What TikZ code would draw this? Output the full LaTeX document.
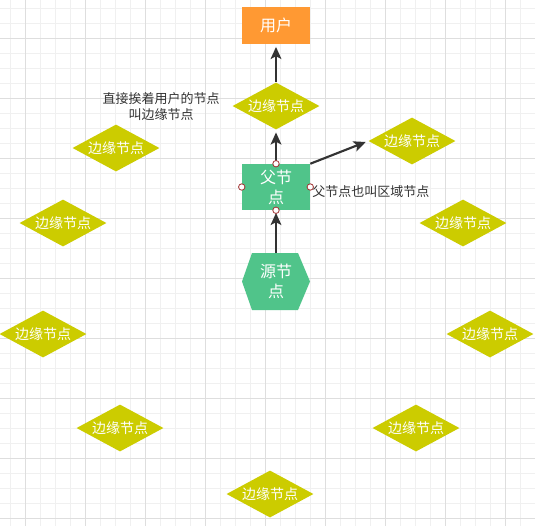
\documentclass[tikz,border=0pt]{standalone}
\usepackage{fontspec}
\setmainfont{Noto Sans CJK SC}
\usepackage{tikz}
\usetikzlibrary{positioning,arrows.meta,shapes.geometric}
\tikzset{>=Stealth}
\definecolor{gridminor}{RGB}{240,240,240}
\definecolor{gridmajor}{RGB}{222,222,222}
\definecolor{userorange}{RGB}{255,153,51}
\definecolor{nodegreen}{RGB}{80,196,138}
\definecolor{edgeyellow}{RGB}{204,204,0}
\definecolor{textgray}{RGB}{51,51,51}
\definecolor{portred}{RGB}{160,50,50}

\tikzset{
  edgenode/.style={diamond, aspect=1.85, fill=edgeyellow, text=white, inner sep=0pt,
    minimum width=65.25pt, minimum height=35.25pt, font=\fontsize{10.5}{12}\selectfont},
  boxnode/.style={rectangle, text=white, inner sep=0pt, minimum width=51pt, align=center,
    font=\fontsize{12}{15}\selectfont},
  flow/.style={->, line width=1.6pt, textgray, shorten >=2pt, >={Stealth[length=9pt,width=8pt,inset=2pt]}},
  port/.style={draw=portred, fill=white, line width=0.6pt},
  note/.style={text=textgray, inner sep=0pt, align=center, font=\fontsize{9.75}{12}\selectfont}
}

\begin{document}
\begin{tikzpicture}[x=0.75pt, y=-0.75pt]
    % Background grid
    \fill[white] (0,0) rectangle (535,526);
    \useasboundingbox (0,0) rectangle (535,526);
    \foreach \x in {10,25,...,535} {
        \draw[gridminor, line width=0.7pt] (\x,0) -- (\x,526);
    }
    \foreach \y in {8,23,...,526} {
        \draw[gridminor, line width=0.7pt] (0,\y) -- (535,\y);
    }
    \foreach \x in {25,85,...,535} {
        \draw[gridmajor, line width=0.7pt] (\x,0) -- (\x,526);
    }
    \foreach \y in {38,98,...,526} {
        \draw[gridmajor, line width=0.7pt] (0,\y) -- (535,\y);
    }

    % User and parent boxes
    \node[boxnode, fill=userorange, minimum height=27.75pt] (user) at (276,25.5) {用户};
    \node[boxnode, fill=nodegreen, minimum height=34.5pt] (parent) at (276,187) {父节\\点};

    % Source hexagon
    \fill[nodegreen] (242,281.5) -- (252,253) -- (298,253) -- (310,281.5) -- (298,310) -- (252,310) -- cycle;
    \node[boxnode, minimum height=42.75pt] (src) at (276,281.5) {源节\\点};

    % Edge nodes
    \foreach \name/\x/\y in {e0/276/106, e1/412/141, e2/116/148, e3/63/223, e4/43/334,
                             e5/120/428, e6/270/494, e7/416/428, e8/490/334, e9/463/223} {
        \node[edgenode] (\name) at (\x,\y) {边缘节点};
    }

    % Connectors
    \draw[flow] (e0.north) -- (user.south);
    \draw[flow] (parent.north) -- (e0.south);
    \draw[flow] (parent.north east) -- (e1.west);
    \draw[flow] (src.north) -- (parent.south);

    % Connection points
    \foreach \a in {north, west, east, south} {
        \draw[port] (parent.\a) circle (2.4pt);
    }

    % Notes
    \node[note] (edgenote) at (161,106.5) {直接挨着用户的节点\\叫边缘节点};
    \node[note, anchor=west] (parentnote) at (312,191.5) {父节点也叫区域节点};
\end{tikzpicture}
\end{document}
